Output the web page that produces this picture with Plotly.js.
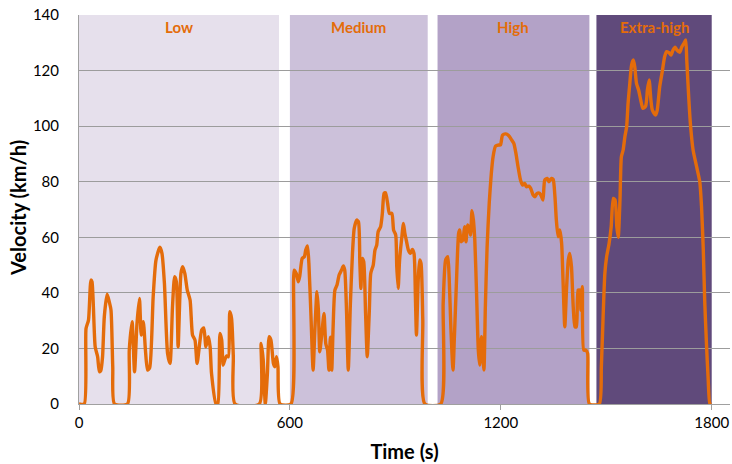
<!DOCTYPE html>
<html>
<head>
<meta charset="utf-8">
<script src="https://cdn.plot.ly/plotly-3.0.1.min.js"></script>
<style>html,body{margin:0;padding:0;background:#fff;}#chart{width:732px;height:464px;}</style>
</head>
<body>
<div id="chart"></div>
<script>
// Time (s) and velocity (km/h)
var timeS = [0,15,20,27,34,37,46,53,58,62,67,72,80,86,91,96,101,138,143,151,158,165,172,177,183,189,195,201,211,219,230,236,243,252,259,266,272,277,282,290,295,301,308,316,323,330,336,349,355,361,368,373,377,390,395,401,406,410,415,420,425,429,434,439,444,513,518,524,530,536,541,546,553,557,562,566,572,603,
612,618,624,628,635,641,645,650,654,660,666,671,677,681,685,690,697,702,707,711,715,719,723,728,734,740,747,752,756,761,766,772,778,783,790,795,799,802,806,810,815,820,826,830,837,842,847,851,858,863,868,872,878,883,890,895,901,904,908,912,918,923,927,931,937,943,948,953,957,960,965,969,973,978,984,1029,
1036,1043,1049,1053,1058,1064,1068,1074,1080,1083,1087,1092,1097,1101,1105,1110,1114,1118,1122,1126,1131,1136,1140,1145,1148,1152,1156,1161,1167,1173,1178,1185,1194,1199,1205,1214,1222,1231,1237,1243,1249,1256,1262,1268,1273,1280,1285,1292,1297,1303,1311,1316,1320,1325,1332,1337,1344,1349,1354,1358,1363,1368,1373,1377,1382,1387,1392,1396,1401,1406,1411,1415,1420,1425,1428,1432,1436,1442,1447,1452,1480,
1486,1491,1496,1501,1508,1514,1520,1525,1530,1534,1539,1543,1548,1553,1558,1562,1567,1572,1577,1581,1586,1592,1598,1604,1612,1617,1622,1627,1631,1640,1645,1652,1660,1666,1672,1679,1684,1690,1696,1701,1709,1715,1721,1726,1729,1735,1740,1747,1757,1766,1771,1776,1780,1785,1790,1795,1800];
var velocityKmh = [0,0,27.2,30.2,44.6,44,20.6,17,11.6,12,17,31.4,39.5,36.8,33.8,13.4,0,0,19.4,29.6,11.6,29,38,24.8,29.6,19.4,12.2,13,38.6,51.8,56.4,54.2,43.4,18.2,14.6,35,45.8,44,20.6,47,49.4,47,41,37.4,24.8,23,14.6,26.6,27.4,20.6,24.2,20.6,11,0,0,25.4,23,14,16,17.3,17,33.2,30.8,17.3,0,0,21.8,16,0,11,24.2,23,14.6,13.4,17,13.4,0,0,
48.2,47,44,46,52.4,53,55.4,56.9,50.6,31.4,12.2,26.6,40.4,33.8,18.8,24.2,32.6,21.8,19.4,12.2,24,12.2,28,41,42.8,46.4,48.2,49.7,48.2,33.8,12.2,36,54.2,63.2,66.2,65.6,50.6,41.6,52.4,51.2,33.8,17,33.8,47,50,55.4,57.2,62,63.8,68.6,75.8,76,72.2,68.6,68.6,62.6,60.8,49.4,41.6,51.8,59.6,65,61.4,59,55.4,54.2,55.6,54.2,38.6,24.8,44.6,51.8,50.6,30.2,0,0,
36.2,51.8,53,45.8,27.2,12.2,24.2,44.6,61.4,62.6,58.4,59,63.8,58.4,64.4,63.2,60.8,69.6,66.2,59,39.8,19.4,14,24.2,19.4,12.2,35,56.6,72.2,83,89,92.8,93.2,93.2,96.8,97.2,96.6,95,93.8,90.2,85.4,80.6,78.8,79.4,78.2,78.4,77.6,75.2,74.6,75.8,75.8,74.6,73.4,80.6,81.2,80,81.2,80.8,74.6,66.2,60.2,62.6,57.8,44.6,27.8,41.6,51.8,54.2,49.4,35,27.8,27.8,41,41,33.8,42.2,19.4,19.4,18.2,0,0,
13.4,31.4,47,53,57.8,63.8,74,73.4,63.8,60,73.4,89,91.4,96.2,99.8,108.2,115.4,122,123.8,121.4,115.4,113,109.4,106.4,107.2,113,116.6,109.4,105.8,104,105.8,114.2,120.2,125,126.8,126.4,125.6,127.4,128.4,127.4,126.6,128.6,129.8,131,123.8,109.4,99.8,91.4,85.4,80,71,55.4,37.4,21.8,8.6,0,0];

// Phases
var phaseNames = ['Low','Medium','High','Extra-high'];
var phaseStart = [0, 600, 1020, 1472];
var phaseEnd = [569, 992, 1452, 1800];
var phaseColors = ['#E6E0EC','#CCC1DA','#B3A2C7','#604A7B'];

var xTicks = [0, 600, 1200, 1800];
var yTicks = [0, 20, 40, 60, 80, 100, 120, 140];

var font = 'Lato, "Open Sans", "DejaVu Sans", sans-serif';
var orange = '#E46C0A';

var shapes = phaseNames.map(function(n, i){
  return {type:'rect', xref:'x', yref:'y', x0:phaseStart[i], x1:phaseEnd[i], y0:0, y1:140,
    fillcolor:phaseColors[i], line:{width:0}, layer:'below'};
});
var annotations = phaseNames.map(function(n, i){
  return {x:(phaseStart[i]+phaseEnd[i])/2, y:135.8, xref:'x', yref:'y', text:'<b>'+n+'</b>',
    showarrow:false, font:{family:font, size:15, color:orange}, xanchor:'center', yanchor:'middle'};
});
annotations.push({xref:'paper', yref:'paper', x:-0.0937, y:0.504, text:'<b>Velocity (km/h)</b>',
  textangle:-90, showarrow:false, xanchor:'center', yanchor:'middle',
  font:{family:font, size:20, color:'#000'}});

var trace = {x:timeS, y:velocityKmh, type:'scatter', mode:'lines',
  line:{color:orange, width:3.4, shape:'spline', smoothing:0.6}, hoverinfo:'skip'};

var layout = {
  width:732, height:464,
  margin:{l:79, r:2, t:15, b:60},
  paper_bgcolor:'#ffffff', plot_bgcolor:'#ffffff',
  showlegend:false,
  font:{family:font, size:15, color:'#000'},
  xaxis:{range:[0,1852], tickvals:xTicks, ticktext:xTicks.map(String), showgrid:false, zeroline:false,
    showline:true, linecolor:'#A0A0A0', linewidth:1, ticks:'outside', ticklen:5, tickcolor:'#A0A0A0',
    tickfont:{family:font, size:15, color:'#000'},
    title:{text:'<b>Time (s)</b>', font:{family:font, size:20, color:'#000'}, standoff:14}},
  yaxis:{range:[0,140], tickvals:yTicks, showgrid:true, gridcolor:'#9C9C9C', gridwidth:1, zeroline:false,
    showline:true, linecolor:'#A0A0A0', linewidth:1, ticks:'', ticklen:0, ticklabelstandoff:16,
    tickfont:{family:font, size:15, color:'#000'}},
  shapes:shapes,
  annotations:annotations
};

Plotly.newPlot('chart', [trace], layout, {displayModeBar:false, staticPlot:true});
</script>
</body>
</html>
